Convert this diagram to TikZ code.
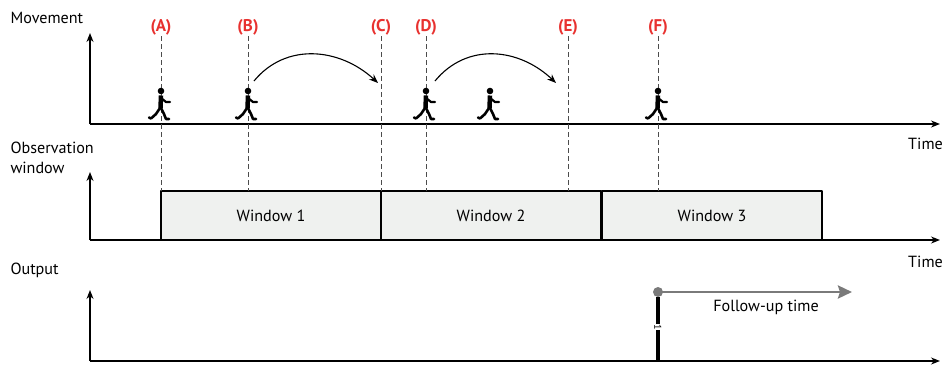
\documentclass[tikz,border=0pt]{standalone}
\usepackage{fontspec}
\setmainfont{PT Sans}
\usetikzlibrary{arrows.meta}
\definecolor{evred}{HTML}{E8312F}
\definecolor{boxgray}{HTML}{EFF1EF}
\definecolor{fugray}{HTML}{7A7A7A}
\tikzset{
	guide/.style={dashed, dash pattern=on 5bp off 3bp, draw=black!70, line width=0.9bp},
	axis/.style={line width=1.3bp, ->},
	evlabel/.style={text=evred, font=\fontsize{17}{20}\selectfont\bfseries, inner sep=1bp},
	winbox/.style={draw, line width=1.1bp, fill=boxgray, minimum width=220bp, minimum height=49bp, inner sep=0pt},
}
% walking person, feet on the axis at #1
\newcommand{\walker}[1]{%
	\begin{scope}[shift={(#1)}, line cap=round, line join=round]
		\fill (0,-33) circle (3.3);
		\draw[line width=4.5bp, line cap=butt] (0,-28.5)--(-0.5,-16);
		\draw[line width=2.2bp] (0,-26)--(5,-22)--(9,-22);
		\draw[line width=2.6bp] (-1,-16)--(-5,-10)--(-10,-5.5) (-10,-5.5)--(-12,-6.5);
		\draw[line width=2.6bp] (0,-16)--(3,-10)--(5,-5) (5,-5)--(8,-5);
	\end{scope}}
\begin{document}
\begin{tikzpicture}[x=1bp, y=-1bp, font=\fontsize{16.2}{20}\selectfont, line join=round, >={Stealth[length=9bp,width=7bp]}]
	\useasboundingbox (0,0) rectangle (944,365);
	% axes
	\coordinate (O1) at (90,124);
	\coordinate (O2) at (90,240);
	\coordinate (O3) at (90,361);
	\draw[axis] (O1)--(90,33);
	\draw[axis] (O1)--(940,124);
	\draw[axis] (O2)--(90,172);
	\draw[axis] (O2)--(940,240);
	\draw[axis] (O3)--(90,290);
	\draw[axis] (O3)--(940,361);
	\node[anchor=west] at (7,18) {Movement};
	\node[anchor=west, align=left] at (7,158) {Observation\\window};
	\node[anchor=west] at (7,270) {Output};
	\node[anchor=east, inner sep=1bp] at (944,144) {Time};
	\node[anchor=east, inner sep=1bp] at (944,262) {Time};
	% observation windows
	\node[winbox] (win1) at (271,215.5) {Window 1};
	\node[winbox] (win2) at (491,215.5) {Window 2};
	\node[winbox] (win3) at (712,215.5) {Window 3};
	% events
	\foreach \n/\x in {A/161,B/248,C/381,D/426,E/568,F/658}{
		\node[evlabel] (l\n) at (\x,27) {(\n)};
		\coordinate (t\n) at (\x,191);
		\draw[guide] (l\n.south)--(t\n);
	}
	\foreach \x in {161,248,426,490,658}
		\walker{\x,124};
	\draw[->, line width=1.1bp] (254,81) .. controls (286,42) and (340,48) .. (378,83);
	\draw[->, line width=1.1bp] (435,81) .. controls (467,42) and (519,48) .. (556,83);
	% output
	\coordinate (out) at (658,297);
	\coordinate (fu) at (658,292);
	\draw[line width=3.2bp] (out)--(658,361);
	\node[rotate=-90, fill=white, inner sep=0.6bp, font=\fontsize{10}{11}\selectfont] at (658,327) {1};
	\draw[fugray, line width=2.8bp, -{Stealth[length=14bp,width=13bp,inset=2bp]}] (fu)--(852,292);
	\fill[fugray] (fu) circle (5);
	\node at (766,307) {Follow-up time};
\end{tikzpicture}
\end{document}
